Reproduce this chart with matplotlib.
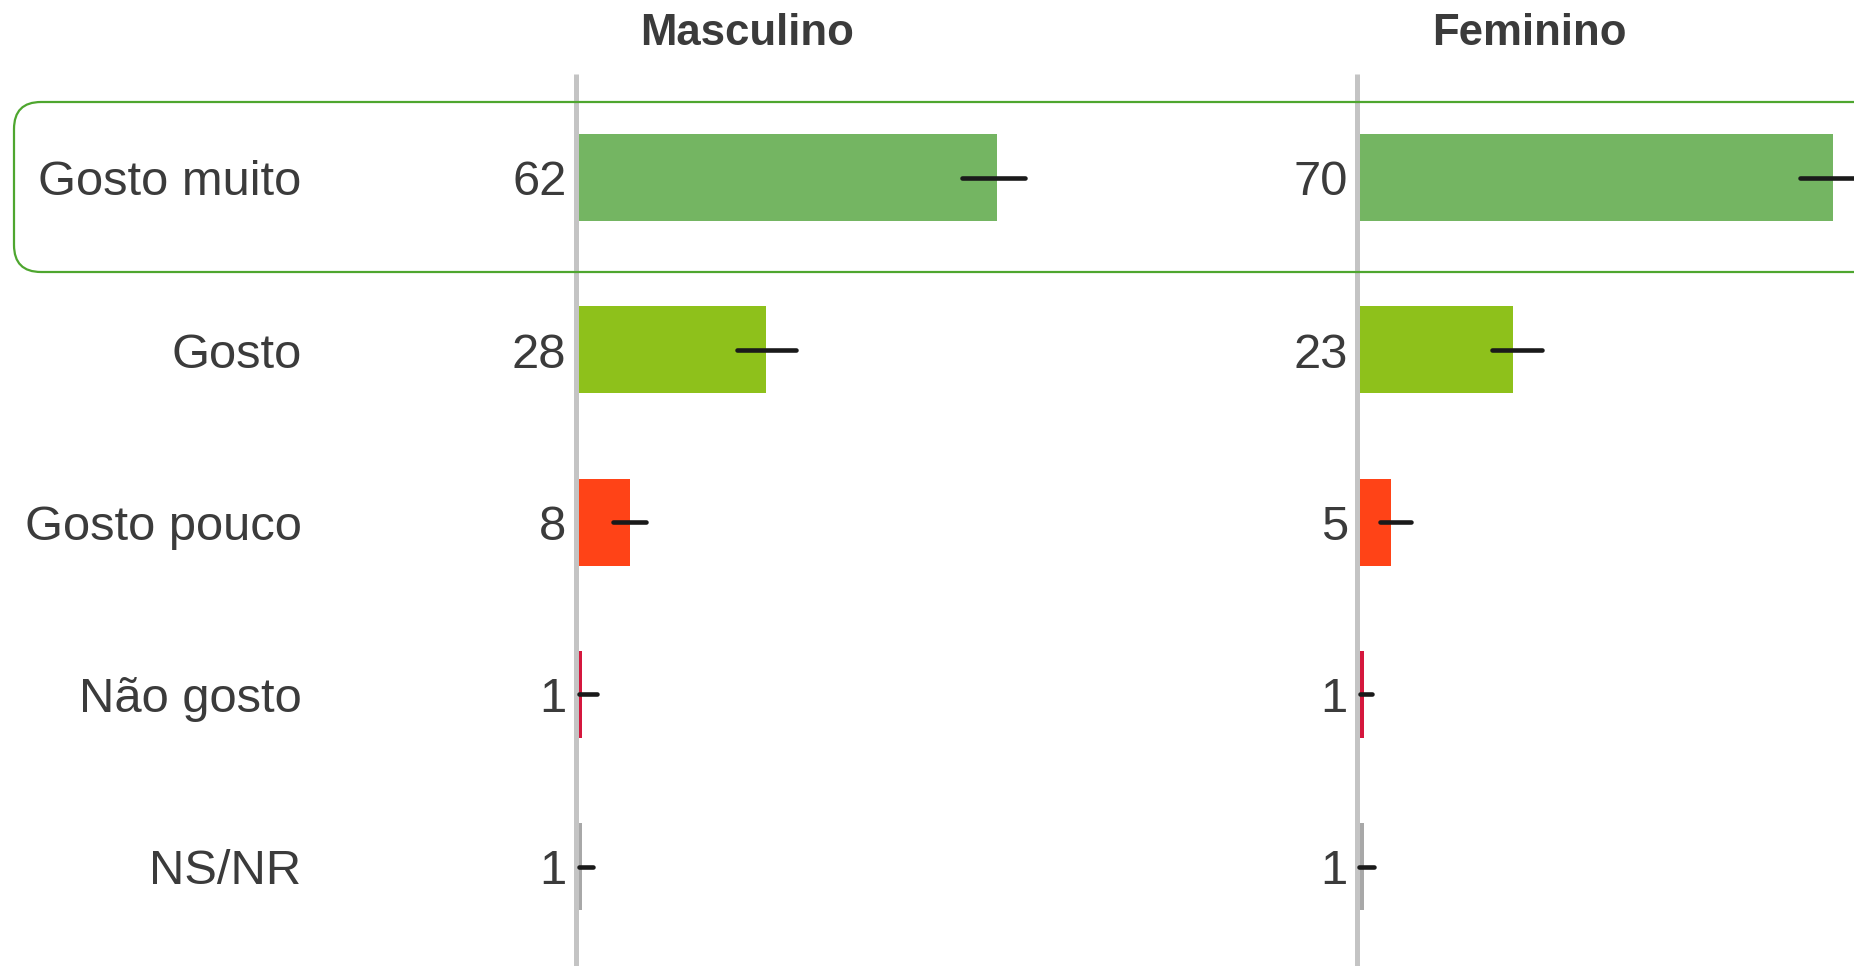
import matplotlib.pyplot as plt
from matplotlib.patches import FancyBboxPatch

plt.rcParams['font.family'] = ['Liberation Sans', 'DejaVu Sans']

categories = ["Gosto muito", "Gosto", "Gosto pouco", "Não gosto", "NS/NR"]
colors = ["#74b562", "#8ec11b", "#ff4317", "#d5173d", "#a8a8a8"]

groups = ["Masculino", "Feminino"]
masc = [62, 28, 8, 1, 1]
fem = [70, 23, 5, 1, 1]
# intervalos de confiança
masc_lo = [56.9, 23.7, 5.5, 0.5, 0.5]
masc_hi = [66.1, 32.4, 10.4, 3.1, 2.5]
fem_lo = [65.2, 19.9, 3.4, 0.5, 0.3]
fem_hi = [74.6, 27.2, 8.0, 2.2, 2.5]

W, H = 1854, 966
PX_UNIT = 6.8          # pixels per percentage point
TXT = "#3b3b3b"

fig = plt.figure(figsize=(W / 100, H / 100), dpi=100)

# highlight box around first row
box = FancyBboxPatch((14, H - 272), 1868, 170, boxstyle="round,pad=0,rounding_size=27",
                     transform=None, facecolor="none", edgecolor="#4ea62f", linewidth=1.6,
                     zorder=0)
fig.patches.append(box)

ax_top = (H - 74.5) / H
panels = [(575.5, 700, masc, masc_lo, masc_hi), (1357, 497, fem, fem_lo, fem_hi)]

for gi, (x0, wpx, vals, lo, hi) in enumerate(panels):
    ax = fig.add_axes([x0 / W, 0, wpx / W, ax_top])
    ax.patch.set_alpha(0)
    ax.set_xlim(0, wpx / PX_UNIT)
    ax.set_ylim(4.577, -0.598)
    y = list(range(len(categories)))
    ax.barh(y, vals, height=0.505, color=colors, zorder=1)
    ax.hlines(y, lo, hi, color="#1a1a1a", linewidth=3.3, capstyle="round", zorder=3)
    for s in ["top", "right", "bottom"]:
        ax.spines[s].set_visible(False)
    ax.spines["left"].set_color("#c4c4c4")
    ax.spines["left"].set_linewidth(3.6)
    ax.spines["left"].set_capstyle("butt")
    ax.spines["left"].set_zorder(2.5)
    ax.set_xticks([])
    ax.set_yticks([])

    for i, v in enumerate(vals):
        ax.annotate(str(v), xy=(0, i), xytext=(-9, -17.8), textcoords="offset pixels",
                    ha="right", va="baseline", fontsize=35.2, color=TXT,
                    annotation_clip=False)
        if gi == 0:
            ax.annotate(categories[i], xy=(0, i), xytext=(301.5 - x0, -17.8),
                        textcoords="offset pixels", ha="right", va="baseline",
                        fontsize=35.2, color=TXT, annotation_clip=False)

    ax.annotate(groups[gi], xy=(0, 1), xycoords="axes fraction", xytext=(172, 29.5),
                textcoords="offset pixels", ha="center", va="baseline", fontsize=31.5,
                fontweight="bold", color=TXT, annotation_clip=False)

fig.savefig("out.png", dpi=100)
